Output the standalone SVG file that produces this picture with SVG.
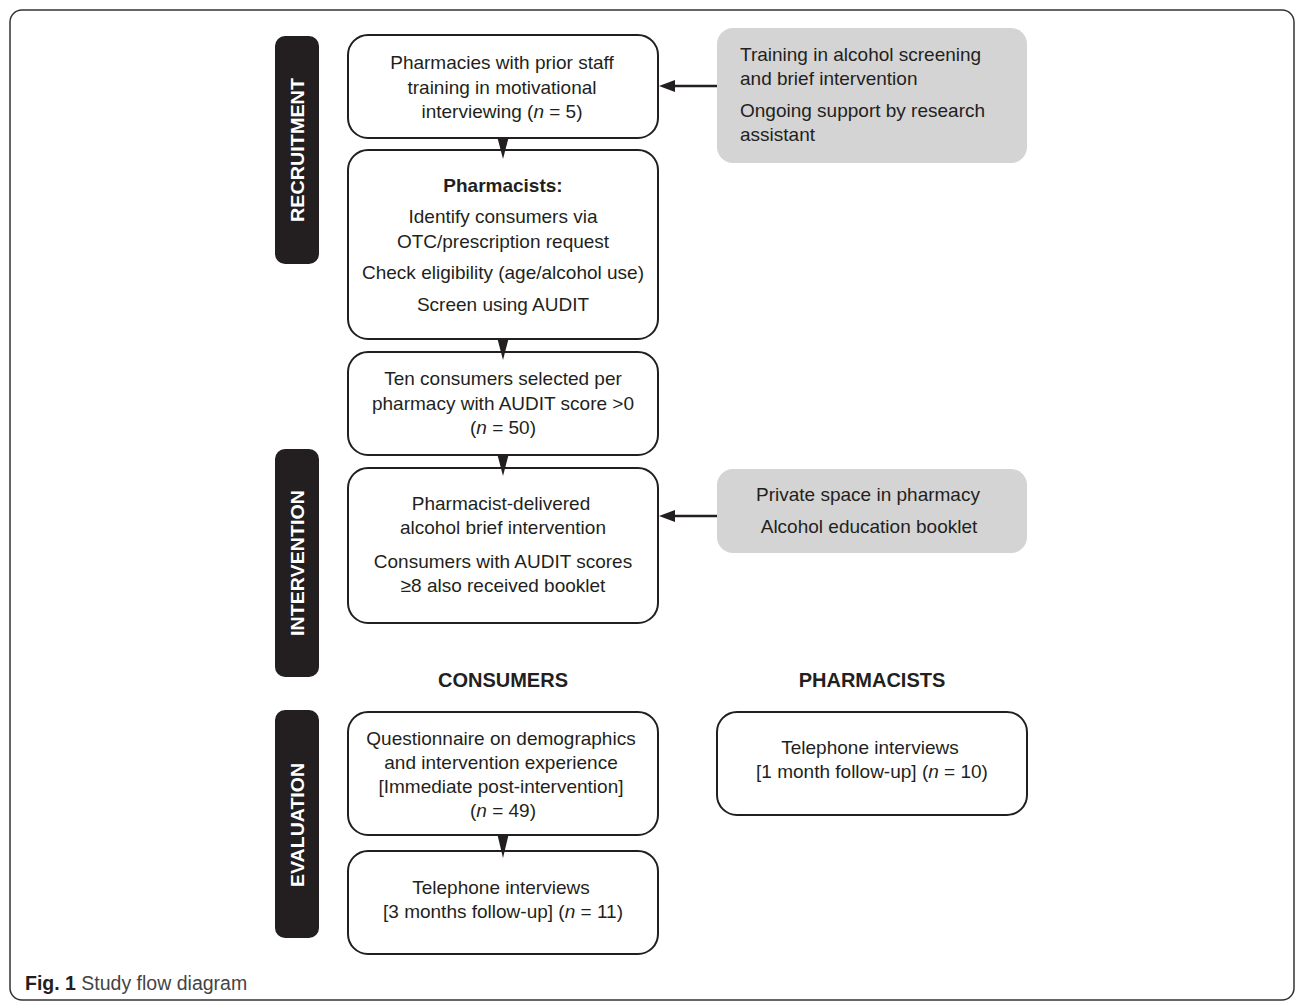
<svg xmlns="http://www.w3.org/2000/svg" width="1296" height="1003" viewBox="0 0 1296 1003">
<defs>
<style>
.frame{fill:#fff;stroke:#333;stroke-width:1.5}
.box{fill:#fff;stroke:#231f20;stroke-width:2}
.gbox{fill:#d4d4d4;stroke:none}
.side{fill:#231f20}
.t{font-family:"Liberation Sans",Arial,sans-serif;font-size:19px;fill:#231f20;text-anchor:middle}
.tl{font-family:"Liberation Sans",Arial,sans-serif;font-size:19px;fill:#231f20;text-anchor:start}
.b{font-weight:bold}
.st{font-family:"Liberation Sans",Arial,sans-serif;font-size:19px;fill:#fff;text-anchor:middle;font-weight:bold}
.h{font-family:"Liberation Sans",Arial,sans-serif;font-size:20px;fill:#231f20;text-anchor:middle;font-weight:bold}
.cap{font-family:"Liberation Sans",Arial,sans-serif;font-size:19.5px;fill:#444}
.ln{stroke:#231f20;stroke-width:2.5;fill:none}
.ah{fill:#231f20}
</style>
</defs>
<rect class="frame" x="10" y="10" width="1284" height="990" rx="12"/>

<g id="side-recruitment"><rect class="side" x="275" y="36" width="44" height="228" rx="10"/><text class="st" transform="translate(304,150) rotate(-90)" textLength="144" lengthAdjust="spacingAndGlyphs">RECRUITMENT</text></g>
<g id="side-intervention"><rect class="side" x="275" y="449" width="44" height="228" rx="10"/><text class="st" transform="translate(304,563) rotate(-90)" textLength="146" lengthAdjust="spacingAndGlyphs">INTERVENTION</text></g>
<g id="side-evaluation"><rect class="side" x="275" y="710" width="44" height="228" rx="10"/><text class="st" transform="translate(304,825) rotate(-90)" textLength="124" lengthAdjust="spacingAndGlyphs">EVALUATION</text></g>

<g id="n1"><rect class="box" x="348" y="35" width="310" height="103" rx="20"/>
<text class="t" x="502" y="69">Pharmacies with prior staff</text>
<text class="t" x="502" y="94">training in motivational</text>
<text class="t" x="502" y="118">interviewing (<tspan font-style="italic">n</tspan> = 5)</text></g>

<g id="n2"><rect class="box" x="348" y="150" width="310" height="189" rx="20"/>
<text class="t b" x="503" y="192">Pharmacists:</text>
<text class="t" x="503" y="223">Identify consumers via</text>
<text class="t" x="503" y="248">OTC/prescription request</text>
<text class="t" x="503" y="279">Check eligibility (age/alcohol use)</text>
<text class="t" x="503" y="311">Screen using AUDIT</text></g>

<g id="n3"><rect class="box" x="348" y="352" width="310" height="103" rx="20"/>
<text class="t" x="503" y="385">Ten consumers selected per</text>
<text class="t" x="503" y="410">pharmacy with AUDIT score &gt;0</text>
<text class="t" x="503" y="434">(<tspan font-style="italic">n</tspan> = 50)</text></g>

<g id="n4"><rect class="box" x="348" y="468" width="310" height="155" rx="20"/>
<text class="t" x="501" y="510">Pharmacist-delivered</text>
<text class="t" x="503" y="534">alcohol brief intervention</text>
<text class="t" x="503" y="568">Consumers with AUDIT scores</text>
<text class="t" x="503" y="592">≥8 also received booklet</text></g>

<g id="g1"><rect class="gbox" x="717" y="28" width="310" height="135" rx="16"/>
<text class="tl" x="740" y="61">Training in alcohol screening</text>
<text class="tl" x="740" y="85">and brief intervention</text>
<text class="tl" x="740" y="117">Ongoing support by research</text>
<text class="tl" x="740" y="141">assistant</text></g>

<g id="g2"><rect class="gbox" x="717" y="469" width="310" height="84" rx="16"/>
<text class="t" x="868" y="501">Private space in pharmacy</text>
<text class="t" x="869" y="533">Alcohol education booklet</text></g>

<g id="hdr-consumers"><text class="h" x="503" y="687">CONSUMERS</text></g>
<g id="hdr-pharmacists"><text class="h" x="872" y="687">PHARMACISTS</text></g>

<g id="n5"><rect class="box" x="348" y="712" width="310" height="123" rx="20"/>
<text class="t" x="501" y="745">Questionnaire on demographics</text>
<text class="t" x="501" y="769">and intervention experience</text>
<text class="t" x="501" y="793">[Immediate post-intervention]</text>
<text class="t" x="503" y="817">(<tspan font-style="italic">n</tspan> = 49)</text></g>

<g id="n6"><rect class="box" x="348" y="851" width="310" height="103" rx="20"/>
<text class="t" x="501" y="894">Telephone interviews</text>
<text class="t" x="503" y="918">[3 months follow-up] (<tspan font-style="italic">n</tspan> = 11)</text></g>

<g id="n7"><rect class="box" x="717" y="712" width="310" height="103" rx="20"/>
<text class="t" x="870" y="754">Telephone interviews</text>
<text class="t" x="872" y="778">[1 month follow-up] (<tspan font-style="italic">n</tspan> = 10)</text></g>

<g id="connectors">
<line class="ln" x1="717" y1="86" x2="672" y2="86"/>
<polygon class="ah" points="659,86 675,80 675,92"/>
<line class="ln" x1="717" y1="516" x2="672" y2="516"/>
<polygon class="ah" points="659,516 675,510 675,522"/>
<polygon class="ah" points="497.5,138 508.5,138 503,159"/>
<polygon class="ah" points="497.5,339 508.5,339 503,360"/>
<polygon class="ah" points="497.5,455 508.5,455 503,476"/>
<polygon class="ah" points="497.5,835 508.5,835 503,858"/>
</g>

<text class="cap" x="25" y="990"><tspan font-weight="bold" fill="#231f20">Fig. 1</tspan> Study flow diagram</text>
</svg>
